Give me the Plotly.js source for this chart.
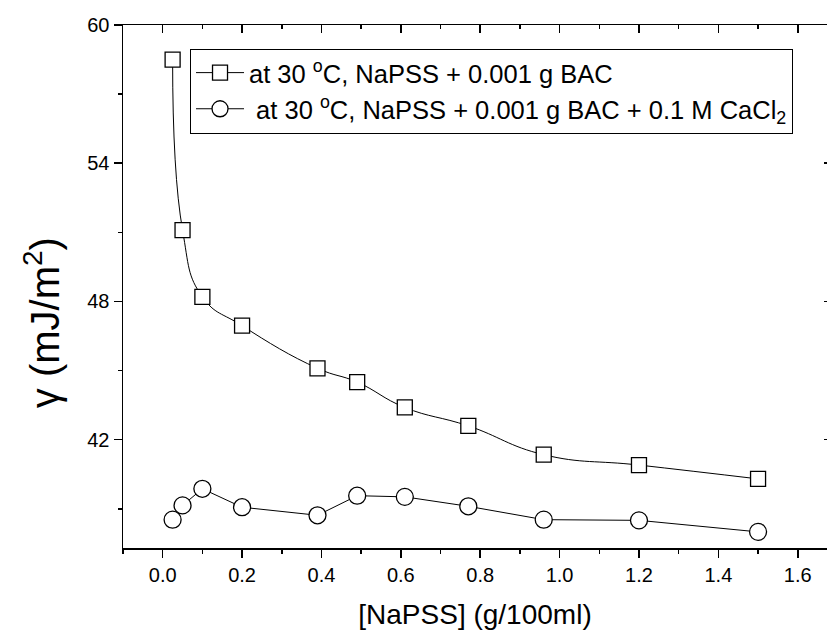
<!DOCTYPE html>
<html>
<head>
<meta charset="utf-8">
<script src="https://cdn.plot.ly/plotly-3.0.1.min.js"></script>
<style>
html,body{margin:0;padding:0;background:#fff;overflow:hidden;}
</style>
</head>
<body>
<div id="chart"></div>
<script>
// Data
const naPSS = [0.025, 0.05, 0.1, 0.2, 0.39, 0.49, 0.61, 0.77, 0.96, 1.2, 1.5];
const gammaBAC = [58.5, 51.1, 48.2, 46.95, 45.1, 44.5, 43.4, 42.6, 41.35, 40.9, 40.3];
const gammaBACCaCl2 = [38.53, 39.15, 39.87, 39.07, 38.72, 39.57, 39.52, 39.11, 38.53, 38.5, 38.0];
const seriesNames = [
  "at 30 <sup>o</sup>C, NaPSS + 0.001 g BAC",
  " at 30 <sup>o</sup>C, NaPSS + 0.001 g BAC + 0.1 M CaCl<sub>2</sub>"
];
const xTitle = "[NaPSS] (g/100ml)";
const yTitle = "\u03b3 (mJ/m<sup>2</sup>)";

const FONT = "Arial";

const traces = [
  {
    x: naPSS, y: gammaBAC, name: seriesNames[0], type: "scatter", mode: "lines+markers",
    line: {color: "#000", width: 1, shape: "spline", smoothing: 1.3},
    marker: {symbol: "square", size: 15, color: "#fff", line: {color: "#000", width: 1.3}}
  },
  {
    x: naPSS, y: gammaBACCaCl2, name: seriesNames[1], type: "scatter", mode: "lines+markers",
    line: {color: "#000", width: 1},
    marker: {symbol: "circle", size: 17, color: "#fff", line: {color: "#000", width: 1.3}}
  },
  {x: [], y: [], xaxis: "x2", yaxis: "y2", showlegend: false, hoverinfo: "skip"}
];

const xr = [-0.1, 1.6737];
const yr = [37.3, 60];

const layout = {
  width: 827, height: 635,
  margin: {l: 123, r: 0, t: 25, b: 87},
  paper_bgcolor: "#fff", plot_bgcolor: "#fff",
  font: {family: FONT, color: "#000", size: 20},
  showlegend: true,
  legend: {
    x: 0.0952, y: 0.955, xanchor: "left", yanchor: "top",
    bordercolor: "#000", borderwidth: 1, bgcolor: "#fff",
    font: {family: FONT, size: 25.5, color: "#000"},
    tracegroupgap: 0, itemwidth: 48
  },
  annotations: [{
    text: yTitle, xref: "paper", yref: "paper", x: -0.115, y: 0.43,
    xanchor: "center", yanchor: "middle", textangle: -90, showarrow: false,
    font: {family: FONT, size: 40, color: "#000"}
  }],
  xaxis: {
    range: xr, tickmode: "linear", tick0: 0, dtick: 0.2, tickformat: ".1f",
    ticks: "outside", ticklen: 8, tickwidth: 1.5, tickcolor: "#000",
    minor: {ticks: "outside", dtick: 0.1, ticklen: 4, tickwidth: 1.5, tickcolor: "#000"},
    showline: true, linewidth: 1.5, linecolor: "#000", mirror: false,
    showgrid: false, zeroline: false,
    tickfont: {family: FONT, size: 20},
    title: {text: xTitle, font: {family: FONT, size: 28}, standoff: 20}
  },
  xaxis2: {
    overlaying: "x", side: "top", range: xr, tickmode: "linear", tick0: 0, dtick: 0.2,
    ticks: "inside", ticklen: 8, tickwidth: 1.5, tickcolor: "#000",
    minor: {ticks: "inside", dtick: 0.1, ticklen: 4, tickwidth: 1.5, tickcolor: "#000"},
    showline: true, linewidth: 1.5, linecolor: "#000",
    showticklabels: false, showgrid: false, zeroline: false
  },
  yaxis: {
    range: yr, tickmode: "linear", tick0: 0, dtick: 6,
    ticks: "outside", ticklen: 8, tickwidth: 1.5, tickcolor: "#000",
    minor: {ticks: "outside", dtick: 3, ticklen: 4, tickwidth: 1.5, tickcolor: "#000"},
    showline: true, linewidth: 1.5, linecolor: "#000", mirror: false,
    showgrid: false, zeroline: false,
    tickfont: {family: FONT, size: 20}
  },
  yaxis2: {
    overlaying: "y", side: "right", range: yr, tickmode: "linear", tick0: 0, dtick: 6,
    ticks: "inside", ticklen: 3, tickwidth: 1.5, tickcolor: "#000",
    showline: false,
    showticklabels: false, showgrid: false, zeroline: false
  }
};

Plotly.newPlot("chart", traces, layout, {displayModeBar: false, staticPlot: true});
</script>
</body>
</html>
